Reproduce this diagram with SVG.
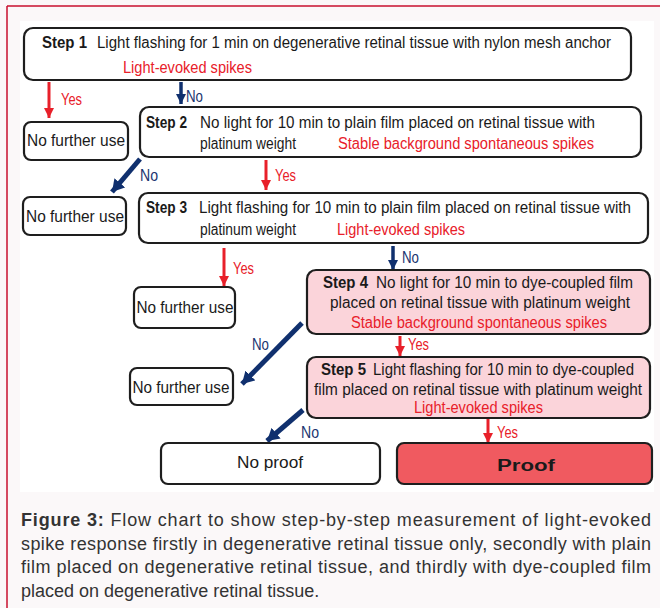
<svg xmlns="http://www.w3.org/2000/svg" width="660" height="608" viewBox="0 0 660 608">
<defs>
<style>
.box{fill:#fff;stroke:#1e1e1e;stroke-width:2.2}
.pink{fill:#fbd4da;stroke:#1e1e1e;stroke-width:2.2}
.proof{fill:#f05a60;stroke:#1e1e1e;stroke-width:2.2}
.t{font-family:"Liberation Sans",Arial,sans-serif;font-size:16px;fill:#1a1a1a}
.b{font-weight:bold}
.r{fill:#e8202a}
.n{fill:#1b3570}
.red{stroke:#e8202a;stroke-width:3;fill:none}
.blue{stroke:#10306e;stroke-width:3.5;fill:none}
.bluediag{stroke:#10306e;stroke-width:5;fill:none}
.cap{font-family:"Liberation Sans",Arial,sans-serif;font-size:18px;fill:#333}
</style>
<marker id="ar" markerUnits="userSpaceOnUse" markerWidth="12" markerHeight="12" viewBox="0 0 12 12" refX="10" refY="6" orient="auto"><path d="M0,1 L10,6 L0,11 Z" fill="#e8202a"/></marker>
<marker id="ab" markerUnits="userSpaceOnUse" markerWidth="12" markerHeight="12" viewBox="0 0 12 12" refX="10" refY="6" orient="auto"><path d="M0,1 L10,6 L0,11 Z" fill="#10306e"/></marker>
<marker id="abd" markerUnits="userSpaceOnUse" markerWidth="14" markerHeight="14" viewBox="0 0 14 14" refX="12" refY="7" orient="auto"><path d="M0,0 L12,7 L0,14 Z" fill="#10306e"/></marker>
</defs>
<rect x="0" y="0" width="660" height="608" fill="#fbf8f9"/>
<rect x="20" y="21" width="634" height="471" fill="#fff"/>
<line x1="7" y1="6" x2="660" y2="6" stroke="#c8102e" stroke-width="1.5"/>
<line x1="7" y1="6" x2="7" y2="608" stroke="#c8102e" stroke-width="1.5"/>

<g id="connectors">
<line class="red" x1="49" y1="82" x2="49" y2="118" marker-end="url(#ar)"/>
<line class="blue" x1="181" y1="82" x2="181" y2="104" marker-end="url(#ab)"/>
<line class="bluediag" x1="140" y1="159" x2="112" y2="192" marker-end="url(#abd)"/>
<line class="red" x1="266" y1="160" x2="266" y2="190" marker-end="url(#ar)"/>
<line class="red" x1="224" y1="248" x2="224" y2="286" marker-end="url(#ar)"/>
<line class="blue" x1="393" y1="246" x2="393" y2="270" marker-end="url(#ab)"/>
<line class="bluediag" x1="302" y1="323" x2="242" y2="384" marker-end="url(#abd)"/>
<line class="red" x1="400" y1="336" x2="400" y2="356" marker-end="url(#ar)"/>
<line class="bluediag" x1="303" y1="410" x2="267" y2="441" marker-end="url(#abd)"/>
<line class="red" x1="488" y1="419" x2="488" y2="443" marker-end="url(#ar)"/>
<text class="t r" x="61" y="105" textLength="21" lengthAdjust="spacingAndGlyphs">Yes</text>
<text class="t n" x="186" y="102" textLength="17" lengthAdjust="spacingAndGlyphs">No</text>
<text class="t n" x="140" y="181" textLength="18" lengthAdjust="spacingAndGlyphs">No</text>
<text class="t r" x="275" y="181" textLength="21" lengthAdjust="spacingAndGlyphs">Yes</text>
<text class="t r" x="233" y="274" textLength="21" lengthAdjust="spacingAndGlyphs">Yes</text>
<text class="t n" x="402" y="263" textLength="17" lengthAdjust="spacingAndGlyphs">No</text>
<text class="t n" x="252" y="350" textLength="17" lengthAdjust="spacingAndGlyphs">No</text>
<text class="t r" x="408" y="350" textLength="21" lengthAdjust="spacingAndGlyphs">Yes</text>
<text class="t n" x="301" y="438" textLength="18" lengthAdjust="spacingAndGlyphs">No</text>
<text class="t r" x="497" y="438" textLength="21" lengthAdjust="spacingAndGlyphs">Yes</text>
</g>

<g id="step1">
<rect class="box" x="24" y="28" width="607" height="52" rx="9"/>
<text class="t b" x="42" y="48" textLength="45" lengthAdjust="spacingAndGlyphs">Step 1</text>
<text class="t" x="97" y="48" textLength="514" lengthAdjust="spacingAndGlyphs">Light flashing for 1 min on degenerative retinal tissue with nylon mesh anchor</text>
<text class="t r" x="123" y="73" textLength="129" lengthAdjust="spacingAndGlyphs">Light-evoked spikes</text>
</g>

<g id="nfu1">
<rect class="box" x="24" y="122" width="104" height="38" rx="7"/>
<text class="t" x="76" y="146" text-anchor="middle" textLength="98" lengthAdjust="spacingAndGlyphs">No further use</text>
</g>

<g id="step2">
<rect class="box" x="140" y="107" width="501" height="50" rx="9"/>
<text class="t b" x="146" y="128" textLength="41" lengthAdjust="spacingAndGlyphs">Step 2</text>
<text class="t" x="200" y="128" textLength="395" lengthAdjust="spacingAndGlyphs">No light for 10 min to plain film placed on retinal tissue with</text>
<text class="t" x="200" y="149" textLength="96" lengthAdjust="spacingAndGlyphs">platinum weight</text>
<text class="t r" x="338" y="149" textLength="256" lengthAdjust="spacingAndGlyphs">Stable background spontaneous spikes</text>
</g>

<g id="nfu2">
<rect class="box" x="23" y="197" width="103" height="38" rx="7"/>
<text class="t" x="75" y="222" text-anchor="middle" textLength="98" lengthAdjust="spacingAndGlyphs">No further use</text>
</g>

<g id="step3">
<rect class="box" x="139" y="193" width="509" height="50" rx="9"/>
<text class="t b" x="146" y="213" textLength="41" lengthAdjust="spacingAndGlyphs">Step 3</text>
<text class="t" x="199" y="213" textLength="432" lengthAdjust="spacingAndGlyphs">Light flashing for 10 min to plain film placed on retinal tissue with</text>
<text class="t" x="200" y="235" textLength="96" lengthAdjust="spacingAndGlyphs">platinum weight</text>
<text class="t r" x="337" y="235" textLength="128" lengthAdjust="spacingAndGlyphs">Light-evoked spikes</text>
</g>

<g id="nfu3">
<rect class="box" x="134" y="287" width="101" height="41" rx="7"/>
<text class="t" x="185" y="313" text-anchor="middle" textLength="97" lengthAdjust="spacingAndGlyphs">No further use</text>
</g>

<g id="step4">
<rect class="pink" x="307" y="270" width="343" height="64" rx="9"/>
<text class="t b" x="323" y="288" textLength="45" lengthAdjust="spacingAndGlyphs">Step 4</text>
<text class="t" x="376" y="288" textLength="257" lengthAdjust="spacingAndGlyphs">No light for 10 min to dye-coupled film</text>
<text class="t" x="330" y="308" textLength="300" lengthAdjust="spacingAndGlyphs">placed on retinal tissue with platinum weight</text>
<text class="t r" x="351" y="328" textLength="256" lengthAdjust="spacingAndGlyphs">Stable background spontaneous spikes</text>
</g>

<g id="nfu4">
<rect class="box" x="130" y="368" width="103" height="37" rx="7"/>
<text class="t" x="181" y="393" text-anchor="middle" textLength="97" lengthAdjust="spacingAndGlyphs">No further use</text>
</g>

<g id="step5">
<rect class="pink" x="307" y="357" width="343" height="61" rx="9"/>
<text class="t b" x="321" y="375" textLength="45" lengthAdjust="spacingAndGlyphs">Step 5</text>
<text class="t" x="373" y="375" textLength="261" lengthAdjust="spacingAndGlyphs">Light flashing for 10 min to dye-coupled</text>
<text class="t" x="314" y="395" textLength="328" lengthAdjust="spacingAndGlyphs">film placed on retinal tissue with platinum weight</text>
<text class="t r" x="414" y="413" textLength="129" lengthAdjust="spacingAndGlyphs">Light-evoked spikes</text>
</g>

<g id="noproof">
<rect class="box" x="161" y="443" width="219" height="41" rx="7"/>
<text class="t" x="270" y="468" text-anchor="middle" textLength="66" lengthAdjust="spacingAndGlyphs">No proof</text>
</g>

<g id="proof">
<rect class="proof" x="397" y="443" width="255" height="41" rx="7"/>
<text class="t b" x="526" y="471" text-anchor="middle" font-size="21" textLength="58" lengthAdjust="spacingAndGlyphs">Proof</text>
</g>

<g id="caption">
<text class="cap" x="21" y="526" textLength="630" lengthAdjust="spacing"><tspan font-weight="bold">Figure 3:</tspan> Flow chart to show step-by-step measurement of light-evoked</text>
<text class="cap" x="21" y="550" textLength="630" lengthAdjust="spacing">spike response firstly in degenerative retinal tissue only, secondly with plain</text>
<text class="cap" x="21" y="573" textLength="630" lengthAdjust="spacing">film placed on degenerative retinal tissue, and thirdly with dye-coupled film</text>
<text class="cap" x="21" y="597">placed on degenerative retinal tissue.</text>
</g>
</svg>
